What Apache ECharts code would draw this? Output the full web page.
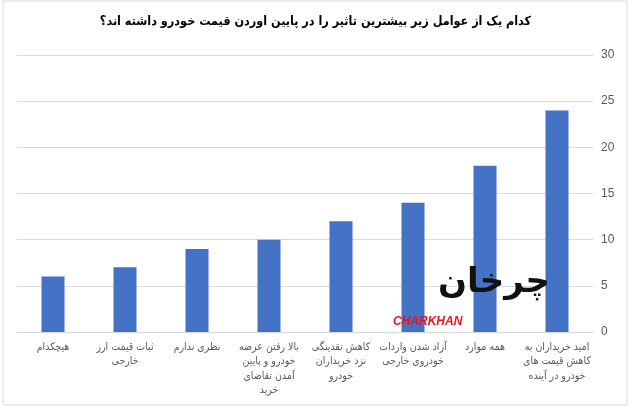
<!DOCTYPE html>
<html><head><meta charset="utf-8">
<script src="https://cdn.jsdelivr.net/npm/echarts@6/dist/echarts.min.js"></script>
<style>html,body{margin:0;padding:0;background:#fff}#c{width:631px;height:407px}</style>
</head><body><div id="c"></div>
<script>
const title = 'کدام یک از عوامل زیر بیشترین تاثیر را در پایین اوردن قیمت خودرو داشته اند؟';
const categories = [
  'هیچکدام',
  'ثبات قیمت ارز\nخارجی',
  'نظری ندارم',
  'بالا رفتن عرضه\nخودرو و پایین\nآمدن تقاضای\nخرید',
  'کاهش نقدینگی\nنزد خریداران\nخودرو',
  'آزاد شدن واردات\nخودروی خارجی',
  'همه موارد',
  'امید خریداران به\nکاهش قیمت های\nخودرو در آینده'
];
const values = [6, 7, 9, 10, 12, 14, 18, 24];
const yTicks = [0, 5, 10, 15, 20, 25, 30];

const chart = echarts.init(document.getElementById('c'), null, {renderer: 'canvas'});
chart.setOption({
  animation: false,
  backgroundColor: '#fff',
  title: {
    text: title, left: 'center', top: 10,
    textStyle: {fontFamily: 'DejaVu Sans Condensed', fontWeight: 'bold', fontSize: 12.5, color: '#000'}
  },
  grid: {left: 17, right: 38, top: 55, bottom: 75},
  xAxis: {
    type: 'category', data: categories,
    axisLine: {show: true, lineStyle: {color: '#d9d9d9'}},
    axisTick: {show: false},
    axisLabel: {
      interval: 0, margin: 8, fontFamily: 'DejaVu Sans Condensed', fontSize: 10.5, color: '#595959',
      lineHeight: 14.5, align: 'center'
    }
  },
  yAxis: {
    type: 'value', position: 'right', min: 0, max: yTicks[yTicks.length - 1], interval: 5,
    axisLine: {show: false}, axisTick: {show: false},
    splitLine: {lineStyle: {color: '#d9d9d9'}},
    axisLabel: {margin: 8, fontFamily: 'Liberation Sans', fontSize: 12, color: '#595959', align: 'left'}
  },
  series: [{
    type: 'bar', data: values, barWidth: '32%',
    itemStyle: {color: '#4472C4'}
  }],
  graphic: [
    {type: 'rect', shape: {x: 3, y: 1, width: 624, height: 404},
     style: {fill: 'none', stroke: '#d9d9d9', lineWidth: 1}, silent: true, z: 100},
    {type: 'text', left: 393, top: 316, z: 101,
     style: {text: 'CHARKHAN', fill: '#e3171f', font: 'italic bold 12px "Liberation Sans"'}},
    {type: 'text', left: 438, top: 266, z: 101,
     style: {text: 'چرخان', fill: '#111', font: 'bold 34px "DejaVu Sans"'}}
  ]
});
</script></body></html>
